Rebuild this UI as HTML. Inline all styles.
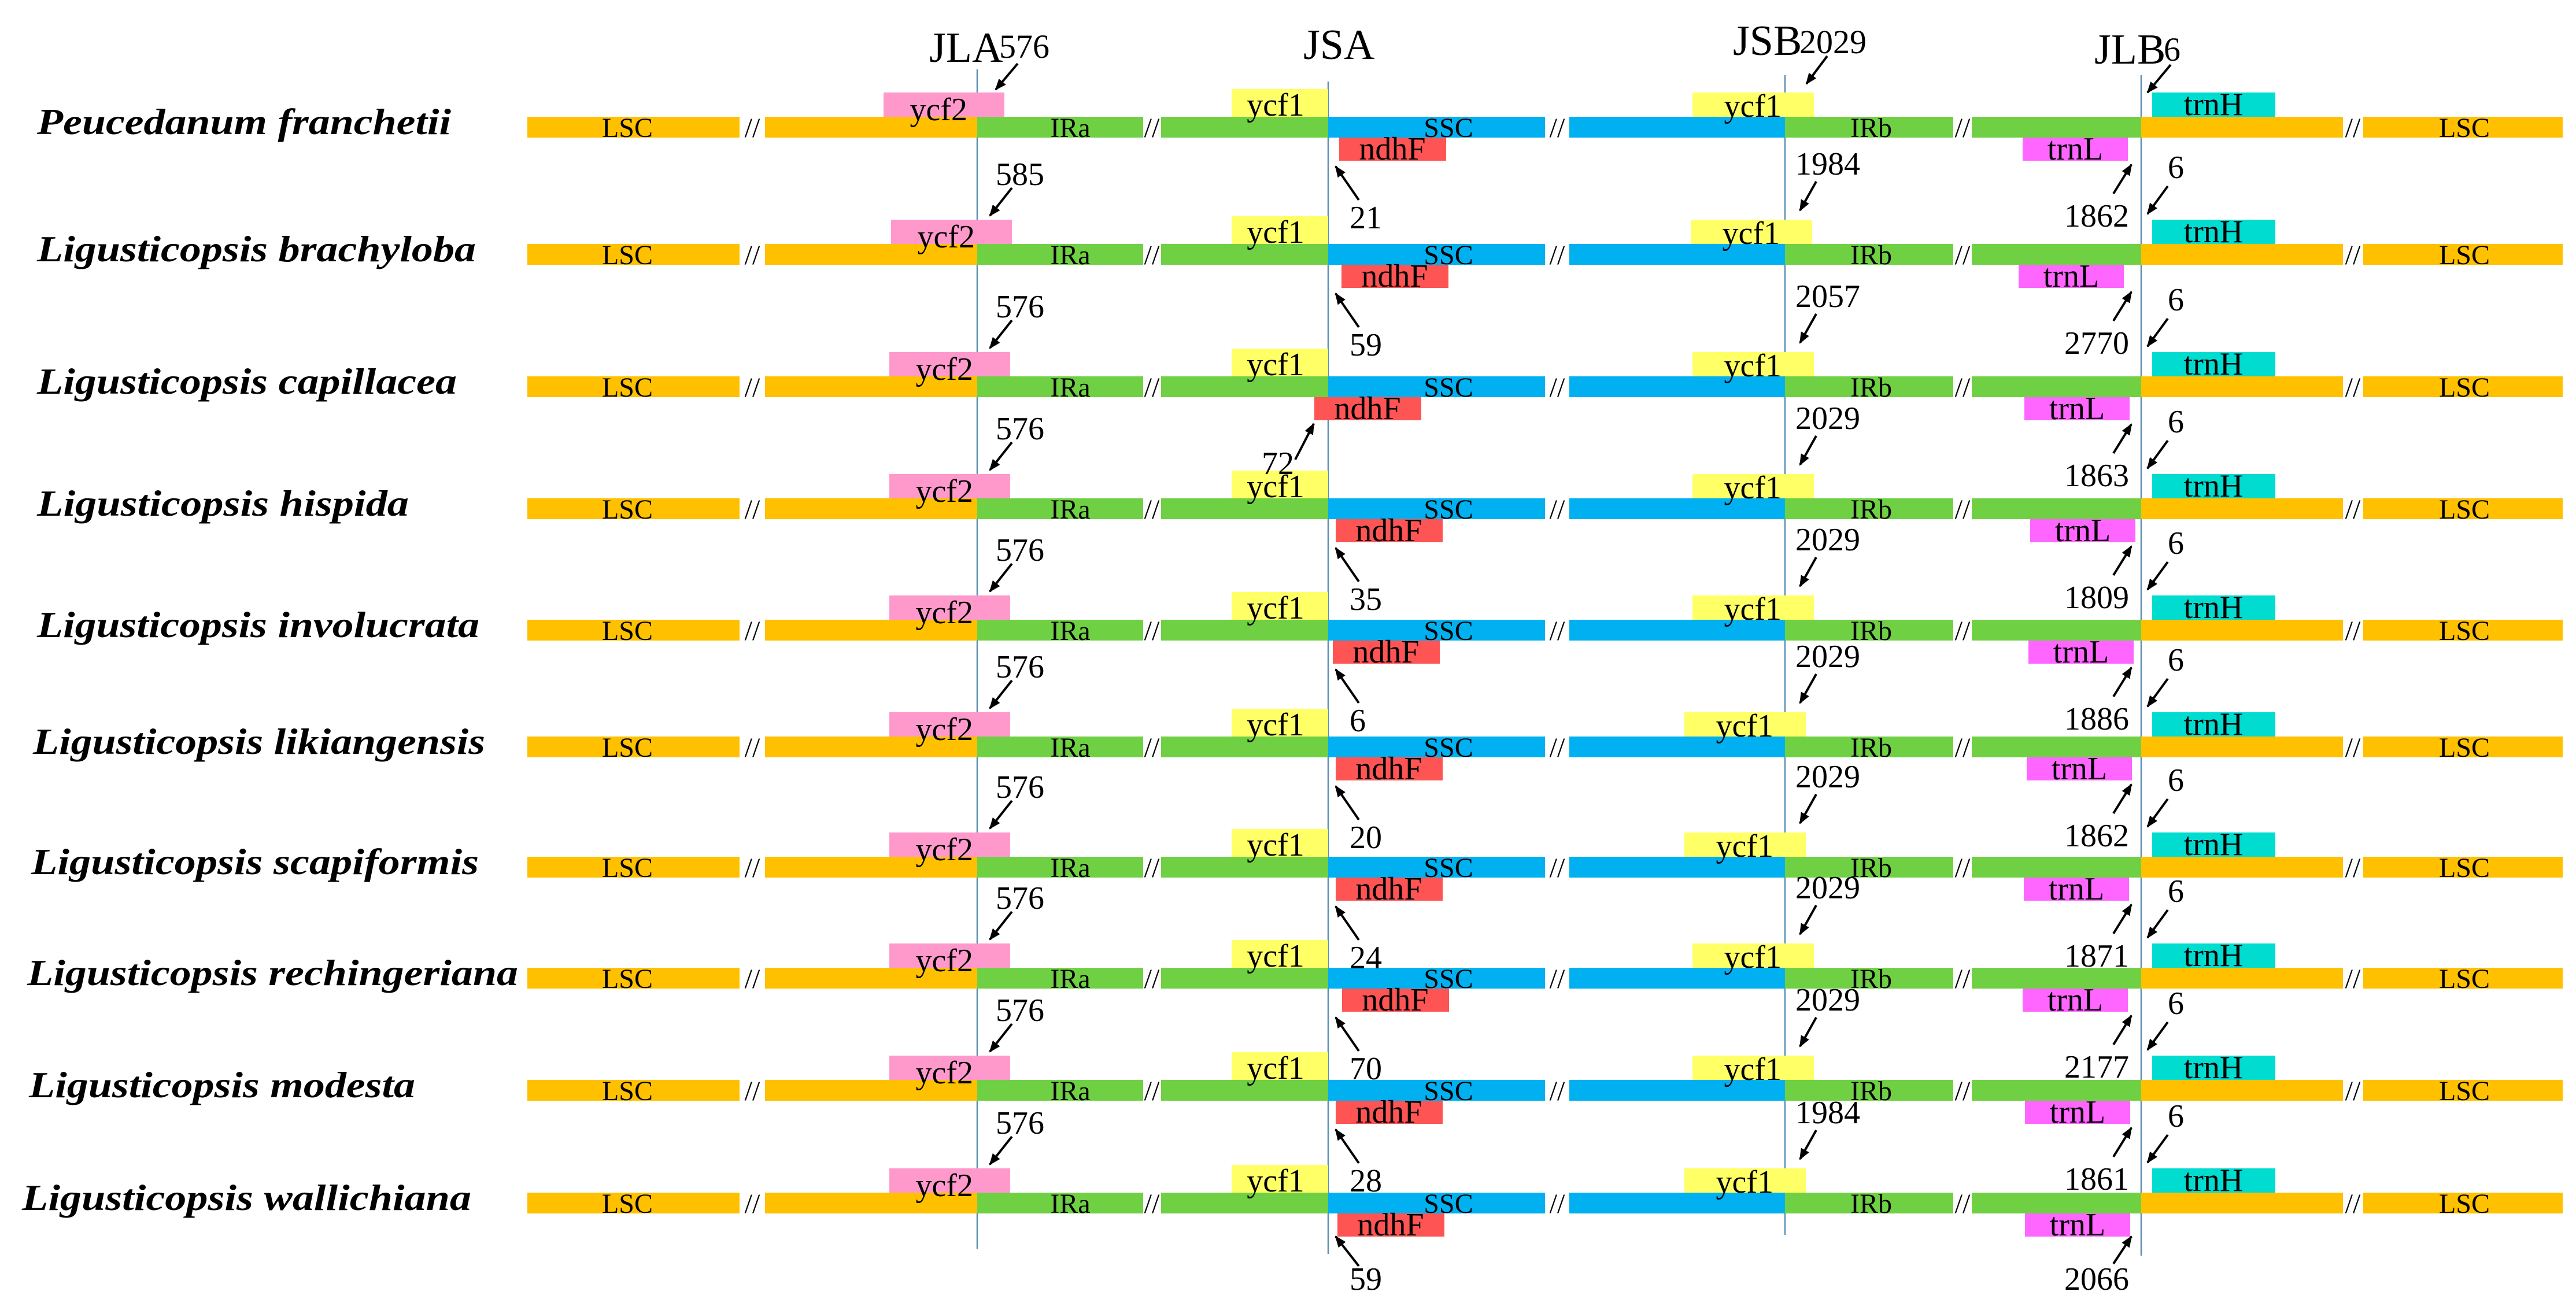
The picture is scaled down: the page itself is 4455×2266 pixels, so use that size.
<!DOCTYPE html>
<html><head><meta charset="utf-8"><style>
html,body{margin:0;padding:0;background:#fff;}
svg{display:block;}
text{font-family:"Liberation Serif",serif;fill:#000;}
.sp{font-weight:bold;font-style:italic;font-size:64px;}
.reg{font-size:48px;}
.gene{font-size:56px;}
.num{font-size:56px;}
.hdr{font-size:74px;}
.hsub{font-size:58px;}
</style></head><body>
<svg id="chart" width="4455" height="2266" viewBox="0 0 4455 2266" xmlns="http://www.w3.org/2000/svg">
<defs>
<marker id="ah" viewBox="0 0 10 10" refX="9" refY="5" markerWidth="5" markerHeight="5" orient="auto"><path d="M0,1 L10,5 L0,9 z" fill="#000"/></marker>
</defs>
<g id="lines"></g><g id="rows"></g><g id="annot"></g>
</svg>
<script>
const species=["Peucedanum franchetii","Ligusticopsis brachyloba","Ligusticopsis capillacea","Ligusticopsis hispida","Ligusticopsis involucrata","Ligusticopsis likiangensis","Ligusticopsis scapiformis","Ligusticopsis rechingeriana","Ligusticopsis modesta","Ligusticopsis wallichiana"];
const jlaValues=[576,585,576,576,576,576,576,576,576,576];
const jsaValues=[21,59,72,35,6,20,24,70,28,59];
const jsbValues=[2029,1984,2057,2029,2029,2029,2029,2029,2029,1984];
const jlbLeftValues=[1862,2770,1863,1809,1886,1862,1871,2177,1861,2066];
const jlbRightValues=[6,6,6,6,6,6,6,6,6,6];

// layout
const rowY=[220,440,669,880,1090,1292,1500,1692,1886,2081];
const spW=[716,759,726,643,765,782,774,849,668,777];
const spX=[64,64,64,64,64,57,54,47,50,38];
const ycf2X=[1528,1541,1538,1538,1538,1538,1538,1538,1538,1538];
const ycf1bX=[2927,2924,2927,2927,2927,2913,2913,2927,2927,2913];
const ndhFX=[2316,2320,2273,2310,2305,2310,2310,2321,2310,2313];
const trnLX=[3498,3491,3501,3511,3508,3505,3500,3498,3502,3502];
const NS="http://www.w3.org/2000/svg";
const C={o:"#FFC000",g:"#70D044",b:"#00B0F0",pink:"#FF99CC",yel:"#FFFF66",red:"#FF5454",cyan:"#00DDD0",mag:"#FF66FF"};
function el(t,a,p,txt){const e=document.createElementNS(NS,t);for(const k in a)e.setAttribute(k,a[k]);if(txt!==undefined)e.textContent=txt;p.appendChild(e);return e;}
const rows=document.getElementById('rows'),annot=document.getElementById('annot'),lines=document.getElementById('lines');
const segs=[[912,1279,C.o,"LSC",1085],[1323,1690,C.o,"",0],[1690,1977,C.g,"IRa",1851],[2008,2297,C.g,"",0],[2297,2672,C.b,"SSC",2505],[2714,3087,C.b,"",0],[3087,3378,C.g,"IRb",3236],[3410,3703,C.g,"",0],[3703,4052,C.o,"",0],[4087,4432,C.o,"LSC",4262]];
const gaps=[1301,1992,2693,3394,4069];
function arrow(x1,y1,x2,y2,name){const a=el('line',{x1:x1,y1:y1,x2:x2,y2:y2,stroke:'#000','stroke-width':4,'marker-end':'url(#ah)'},annot);

}
function txt(x,y,s,cls,name,anchor){const t=el('text',{x:x,y:y,class:cls,'text-anchor':anchor||'start'},annot,s);

return t;}

species.forEach((sp,i)=>{
  const c=rowY[i];
  const g=el('g',{},rows);
  
  
  const s=el('text',{x:spX[i],y:c+12,class:'sp',textLength:spW[i],lengthAdjust:'spacingAndGlyphs'},g,sp);
  
  
  segs.forEach(sg=>{const r=el('rect',{x:sg[0],y:c-18,width:sg[1]-sg[0],height:36,fill:sg[2]},g);
    
    
    if(sg[3]){const t=el('text',{x:sg[4],y:c+17,class:'reg','text-anchor':'middle'},g,sg[3]);
      
      }});
  gaps.forEach(x=>{const t=el('text',{x:x,y:c+17,class:'reg','text-anchor':'middle'},g,'//');
    
    });
  const genes=[[ycf2X[i],209,c-60,42,C.pink,'ycf2',ycf2X[i]+145,c-12,'end'],
    [2130,167,c-66,48,C.yel,'ycf1',2206,c-20,'middle'],
    [ycf1bX[i],210,c-60,42,C.yel,'ycf1',ycf1bX[i]+154,c-18,'end'],
    [3722,213,c-60,42,C.cyan,'trnH',3828,c-21,'middle'],
    [ndhFX[i],185,c+18,40,C.red,'ndhF',ndhFX[i]+92,c+56,'middle'],
    [trnLX[i],182,c+18,40,C.mag,'trnL',trnLX[i]+91,c+56,'middle']];
  genes.forEach(q=>{const r=el('rect',{x:q[0],y:q[2],width:q[1],height:q[3],fill:q[4]},g);
    
    
    const t=el('text',{x:q[6],y:q[7],class:'gene','text-anchor':q[8]},g,q[5]);
    
    });
});
// vertical junction lines
[[1690,120,2160,'jla-line'],[2297,141,2169,'jsa-line'],[3087,130,2136,'jsb-line'],[3703,130,2172,'jlb-line']].forEach(v=>{
  const l=el('line',{x1:v[0],y1:v[1],x2:v[0],y2:v[2],stroke:'#5B8FB5','stroke-width':2.5},lines);
  
  });
// headers
txt(1607,107,'JLA','hdr','jla-header');txt(1728,100,String(jlaValues[0]),'hsub','jla-value');arrow(1760,110,1722,155,'jla-arrow');
txt(2254,102,'JSA','hdr','jsa-header');
txt(2997,95,'JSB','hdr','jsb-header');txt(3112,92,String(jsbValues[0]),'hsub','jsb-value');arrow(3160,97,3124,145,'jsb-arrow');
txt(3622,110,'JLB','hdr','jlb-header');txt(3742,105,String(jlbRightValues[0]),'hsub','jlb-value');arrow(3754,112,3714,160,'jlb-arrow');
// per-row annotations
for(let i=0;i<species.length;i++){
  const c=rowY[i];
  if(i>0){
    txt(1722,c-120,String(jlaValues[i]),'num','jla-value');arrow(1750,c-115,1712,c-67,'jla-arrow');
    txt(3105,c-138,String(jsbValues[i]),'num','jsb-value');arrow(3141,c-126,3113,c-76,'jsb-arrow');
    txt(3749,c-132,String(jlbRightValues[i]),'num','jlb-right-value');arrow(3749,c-118,3714,c-70,'jlb-right-arrow');
  }
  const last=i===species.length-1;
  const tb=last?150:175, at=last?109:126, ah=last?58:68;
  if(i===2){
    txt(2238,c+151,String(jsaValues[i]),'num','jsa-value','end');arrow(2240,c+126,2272,c+64,'jsa-arrow');
  } else {
    txt(2334,c+tb,String(jsaValues[i]),'num','jsa-value');arrow(2350,c+at,2310,c+ah,'jsa-arrow');
  }
  txt(3682,c+(last?150:172),String(jlbLeftValues[i]),'num','jlb-left-value','end');arrow(3655,c+(last?105:115),3686,c+(last?58:65),'jlb-left-arrow');
}
</script>
</body></html>
